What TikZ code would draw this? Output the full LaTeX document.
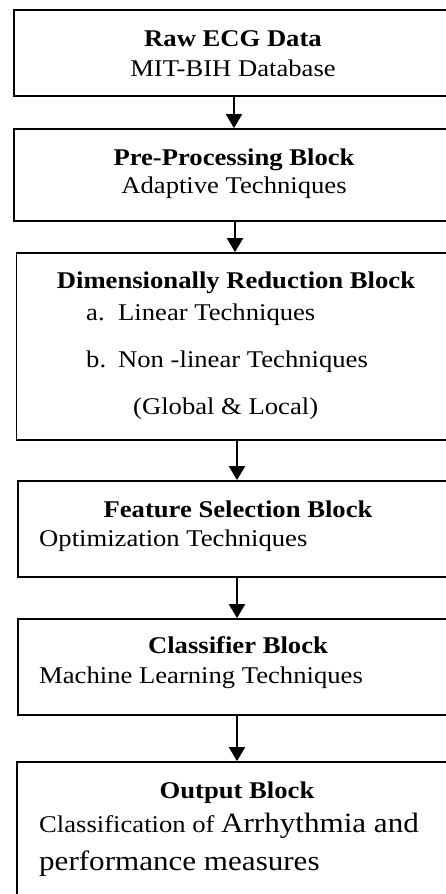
\documentclass[tikz,border=0pt]{standalone}
\usepackage{fontspec}
\setmainfont{Liberation Serif}[FakeStretch=1.11]
\usetikzlibrary{arrows.meta}
\begin{document}
\begin{tikzpicture}[x=1pt,y=-1pt,
  blk/.style={draw=black,line width=1.8pt,rectangle,inner sep=0pt},
  txt/.style={inner sep=0pt,font=\fontsize{24}{30}\selectfont},
  hd/.style={txt,font=\fontsize{24}{30}\selectfont\bfseries,anchor=base},
  arr/.style={line width=2pt,-{Triangle[width=16pt,length=14pt]}}]
\useasboundingbox (0,0) rectangle (446,894);
\clip (0,0) rectangle (446,894);
% boxes: left edges as in the picture, right edges beyond the page
\node[blk,minimum width=466pt,minimum height=86pt] (b1) at (247,53) {};
\node[blk,minimum width=466pt,minimum height=92pt] (b2) at (247,175) {};
\node[blk,minimum width=464pt,minimum height=187pt] (b3) at (248.5,346.5) {};
\node[blk,minimum width=462pt,minimum height=96pt] (b4) at (249,529) {};
\node[blk,minimum width=462pt,minimum height=96pt] (b5) at (249,667) {};
\node[blk,minimum width=463pt,minimum height=160pt] (b6) at (248.5,842) {};
\coordinate (x1) at (234,0);
\coordinate (x2) at (235,0);
\coordinate (x3) at (237,0);
\draw[arr] (b1.south -| x1) -- (b2.north -| x1);
\draw[arr] (b2.south -| x2) -- (b3.north -| x2);
\draw[arr] (b3.south -| x3) -- (b4.north -| x3);
\draw[arr] (b4.south -| x3) -- (b5.north -| x3);
\draw[arr] (b5.south -| x3) -- (b6.north -| x3);
\node[hd] (t1a) at (233,46) {Raw ECG Data};
\node[txt,anchor=base] (t1b) at (233,76) {MIT-BIH Database};
\node[hd] (t2a) at (234,165) {Pre-Processing Block};
\node[txt,anchor=base] (t2b) at (234,193) {Adaptive Techniques};
\node[hd] (t3a) at (236,288) {Dimensionally Reduction Block};
\node[txt,anchor=base west] (t3b) at (86,320) {\makebox[32pt][l]{a.}Linear Techniques};
\node[txt,anchor=base west] (t3c) at (86,367) {\makebox[32pt][l]{b.}Non -linear Techniques};
\node[txt,anchor=base west] (t3d) at (133,414) {(Global \& Local)};
\node[hd] (t4a) at (238,517) {Feature Selection Block};
\node[txt,anchor=base west] (t4b) at (39,546) {Optimization Techniques};
\node[hd] (t5a) at (238,653) {Classifier Block};
\node[txt,anchor=base west] (t5b) at (39,683) {Machine Learning Techniques};
\node[hd] (t6a) at (237,798) {Output Block};
\node[txt,anchor=base west] (t6b) at (39,832) {Classification of {\fontsize{28}{34}\selectfont Arrhythmia and}};
\node[txt,anchor=base west,font=\fontsize{28}{34}\selectfont] (t6c) at (39,870) {performance measures};
\end{tikzpicture}
\end{document}
